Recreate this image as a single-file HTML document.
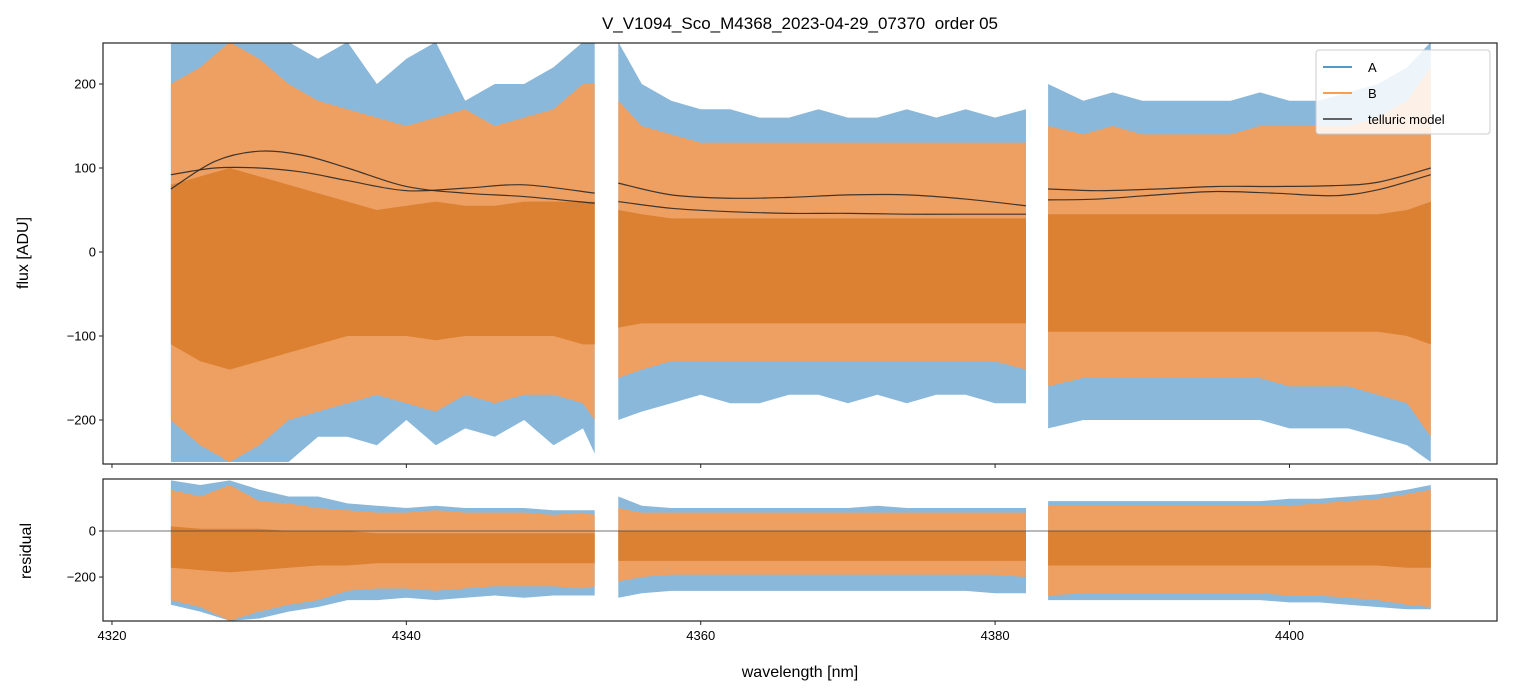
<!DOCTYPE html>
<html><head><meta charset="utf-8"><style>
body{margin:0;background:#fff;}
svg{display:block;font-family:"Liberation Sans","DejaVu Sans",sans-serif;}
</style></head><body>
<svg id="chart" width="1513" height="696" viewBox="0 0 1513 696" xmlns="http://www.w3.org/2000/svg">
<text x="800" y="29" font-size="17" text-anchor="middle" style="white-space:pre">V_V1094_Sco_M4368_2023-04-29_07370  order 05</text>
<g id="topPanel"></g>
<g id="botPanel"></g>
<text transform="translate(28,253) rotate(-90)" font-size="16" text-anchor="middle">flux [ADU]</text>
<text transform="translate(31,551) rotate(-90)" font-size="16" text-anchor="middle">residual</text>
<text x="800" y="677" font-size="16" text-anchor="middle">wavelength [nm]</text>
<g id="legend">
<rect x="1316" y="50" width="174" height="84" rx="3" fill="#fff" fill-opacity="0.85" stroke="#ccc"/>
<line x1="1323" y1="67" x2="1352" y2="67" stroke="#1f77b4" stroke-width="1.5"/>
<text x="1368" y="72" font-size="13">A</text>
<line x1="1323" y1="93" x2="1352" y2="93" stroke="#ff7f0e" stroke-width="1.5"/>
<text x="1368" y="98" font-size="13">B</text>
<line x1="1323" y1="119" x2="1352" y2="119" stroke="#333" stroke-width="1.5"/>
<text x="1368" y="124" font-size="13">telluric model</text>
</g>
</svg>
<script>
const xTicks=[4320,4340,4360,4380,4400];
const topTicks=[200,100,0,-100,-200];
const botTicks=[0,-200];
const s1Wl=[4324,4326,4328,4330,4332,4334,4336,4338,4340,4342,4344,4346,4348,4350,4352,4352.8];
const s2Wl=[4354.4,4356,4358,4360,4362,4364,4366,4368,4370,4372,4374,4376,4378,4380,4382.1];
const s3Wl=[4383.6,4386,4388,4390,4392,4394,4396,4398,4400,4402,4404,4406,4408,4409.6];
const s1BlueHi=[250,250,250,250,250,230,250,200,230,250,180,200,200,220,250,250];
const s1BlueLo=[-250,-250,-250,-250,-250,-220,-220,-230,-200,-230,-210,-220,-200,-230,-210,-240];
const s1OrHi=[200,220,250,230,200,180,170,160,150,160,170,150,160,170,200,200];
const s1OrLo=[-200,-230,-250,-230,-200,-190,-180,-170,-180,-190,-170,-180,-170,-170,-180,-200];
const s1CoreHi=[80,90,100,90,80,70,60,50,55,60,55,55,60,60,60,60];
const s1CoreLo=[-110,-130,-140,-130,-120,-110,-100,-100,-100,-105,-100,-100,-100,-100,-110,-110];
const s2BlueHi=[250,200,180,170,170,160,160,170,160,160,170,160,170,160,170];
const s2BlueLo=[-200,-190,-180,-170,-180,-180,-170,-170,-180,-170,-180,-170,-170,-180,-180];
const s2OrHi=[180,150,140,130,130,130,130,130,130,130,130,130,130,130,130];
const s2OrLo=[-150,-140,-130,-130,-130,-130,-130,-130,-130,-130,-130,-130,-130,-130,-140];
const s2CoreHi=[50,45,40,40,40,40,40,40,40,40,40,40,40,40,40];
const s2CoreLo=[-90,-85,-85,-85,-85,-85,-85,-85,-85,-85,-85,-85,-85,-85,-85];
const s3BlueHi=[200,180,190,180,180,180,180,190,180,180,190,200,220,250];
const s3BlueLo=[-210,-200,-200,-200,-200,-200,-200,-200,-210,-210,-210,-220,-230,-250];
const s3OrHi=[150,140,150,140,140,140,140,150,150,150,150,160,180,220];
const s3OrLo=[-160,-150,-150,-150,-150,-150,-150,-150,-160,-160,-160,-170,-180,-220];
const s3CoreHi=[45,45,45,45,45,45,45,45,45,45,45,45,50,60];
const s3CoreLo=[-95,-95,-95,-95,-95,-95,-95,-95,-95,-95,-95,-95,-100,-110];
const r1BlueHi=[220,200,220,180,150,150,120,110,100,110,100,100,100,90,90,90];
const r1BlueLo=[-320,-350,-390,-380,-350,-330,-300,-300,-290,-300,-290,-280,-290,-280,-280,-280];
const r1OrHi=[180,150,200,130,120,100,90,80,80,90,80,80,80,70,80,70];
const r1OrLo=[-300,-330,-390,-350,-320,-300,-260,-250,-250,-260,-250,-240,-240,-240,-250,-240];
const r1CoreHi=[20,10,10,10,0,0,0,-10,-10,-10,-10,-10,-10,-10,-10,-10];
const r1CoreLo=[-160,-170,-180,-170,-160,-150,-150,-140,-140,-140,-140,-140,-140,-140,-140,-140];
const r2BlueHi=[150,110,100,100,100,100,100,100,100,110,100,100,100,100,100];
const r2BlueLo=[-290,-270,-260,-260,-260,-260,-260,-260,-260,-260,-260,-260,-260,-270,-270];
const r2OrHi=[100,80,80,80,80,80,80,80,80,80,80,80,80,80,80];
const r2OrLo=[-220,-200,-190,-190,-190,-190,-190,-190,-190,-190,-190,-190,-190,-190,-200];
const r2CoreHi=[0,0,0,0,0,0,0,0,0,0,0,0,0,0,0];
const r2CoreLo=[-130,-130,-130,-130,-130,-130,-130,-130,-130,-130,-130,-130,-130,-130,-130];
const r3BlueHi=[130,130,130,130,130,130,130,130,140,140,150,160,180,200];
const r3BlueLo=[-300,-300,-300,-300,-300,-300,-300,-300,-310,-310,-320,-330,-340,-340];
const r3OrHi=[110,110,110,110,110,110,110,110,110,120,130,140,160,180];
const r3OrLo=[-280,-270,-270,-270,-270,-270,-270,-270,-280,-280,-290,-300,-320,-330];
const r3CoreHi=[0,0,0,0,0,0,0,0,0,0,0,0,0,0];
const r3CoreLo=[-150,-150,-150,-150,-150,-150,-150,-150,-150,-150,-150,-150,-160,-160];
const t1Wl=[4324,4327,4330,4333,4336,4340,4344,4348,4352.8];
const t1a=[75,108,120,115,100,78,70,66,58];
const t1b=[92,100,100,95,85,73,76,80,70];
const t2Wl=[4354.4,4358,4362,4366,4370,4374,4378,4382.1];
const t2a=[82,68,64,65,68,68,63,55];
const t2b=[60,52,48,46,46,45,45,45];
const t3Wl=[4383.6,4387,4391,4395,4399,4403,4406,4409.6];
const t3a=[75,73,75,78,78,79,83,100];
const t3b=[62,63,68,72,70,67,74,92];

const NS='http://www.w3.org/2000/svg';
const X0=103,X1=1497,XMIN=4319.39,XMAX=4414.1;
const sx=w=>X0+(w-XMIN)/(XMAX-XMIN)*(X1-X0);
const PT={top:43,bot:464,vmax:248.8,vmin:-252.4};
const PB={top:479,bot:621,vmax:226,vmin:-391};
const sy=(p,v)=>p.top+(p.vmax-v)/(p.vmax-p.vmin)*(p.bot-p.top);
function mk(tag,attrs,parent){const e=document.createElementNS(NS,tag);for(const k in attrs)e.setAttribute(k,attrs[k]);parent.appendChild(e);return e;}
function band(g,p,wl,hi,lo,fill,op,name){
  let d='M'+wl.map((w,i)=>sx(w).toFixed(1)+','+sy(p,hi[i]).toFixed(1)).join(' L');
  for(let i=wl.length-1;i>=0;i--)d+=' L'+sx(wl[i]).toFixed(1)+','+sy(p,lo[i]).toFixed(1);
  const e=mk('path',{d:d+'Z',fill:fill,'fill-opacity':op},g);
  
  
}
function smooth(g,p,wl,v,name){
  const pts=wl.map((w,i)=>[sx(w),sy(p,v[i])]);
  let d='M'+pts[0][0]+','+pts[0][1];
  for(let i=0;i<pts.length-1;i++){
    const p0=pts[Math.max(0,i-1)],p1=pts[i],p2=pts[i+1],p3=pts[Math.min(pts.length-1,i+2)];
    d+=' C'+(p1[0]+(p2[0]-p0[0])/6)+','+(p1[1]+(p2[1]-p0[1])/6)+' '+(p2[0]-(p3[0]-p1[0])/6)+','+(p2[1]-(p3[1]-p1[1])/6)+' '+p2[0]+','+p2[1];
  }
  const e=mk('path',{d:d,fill:'none',stroke:'#222','stroke-opacity':0.85,'stroke-width':1.2},g);
  
  
}
function axes(g,p,ticks,showLabels){
  mk('rect',{x:X0,y:p.top,width:X1-X0,height:p.bot-p.top,fill:'none',stroke:'#222','stroke-width':1.2},g);
  ticks.forEach(t=>{const y=sy(p,t);mk('line',{x1:X0-4,x2:X0,y1:y,y2:y,stroke:'#222'},g);
    const tx=mk('text',{x:X0-7,y:y+4.5,'font-size':13,'text-anchor':'end'},g);tx.textContent=(t<0?'\u2212'+(-t):t);
    
    });
  xTicks.forEach(t=>{const x=sx(t);mk('line',{x1:x,x2:x,y1:p.bot,y2:p.bot+4,stroke:'#222'},g);
    if(showLabels){const tx=mk('text',{x:x,y:p.bot+19,'font-size':13,'text-anchor':'middle'},g);tx.textContent=t;
      
      }});
}
const topG=document.getElementById('topPanel'),botG=document.getElementById('botPanel');
const cp=mk('clipPath',{id:'ct'},topG);mk('rect',{x:X0,y:PT.top,width:X1-X0,height:PT.bot-PT.top},cp);
const cb=mk('clipPath',{id:'cb'},botG);mk('rect',{x:X0,y:PB.top,width:X1-X0,height:PB.bot-PB.top},cb);
const gt=mk('g',{'clip-path':'url(#ct)'},topG),gb=mk('g',{'clip-path':'url(#cb)'},botG);
const segs=[[s1Wl,s1BlueHi,s1BlueLo,s1OrHi,s1OrLo,s1CoreHi,s1CoreLo],[s2Wl,s2BlueHi,s2BlueLo,s2OrHi,s2OrLo,s2CoreHi,s2CoreLo],[s3Wl,s3BlueHi,s3BlueLo,s3OrHi,s3OrLo,s3CoreHi,s3CoreLo]];
const rsegs=[[s1Wl,r1BlueHi,r1BlueLo,r1OrHi,r1OrLo,r1CoreHi,r1CoreLo],[s2Wl,r2BlueHi,r2BlueLo,r2OrHi,r2OrLo,r2CoreHi,r2CoreLo],[s3Wl,r3BlueHi,r3BlueLo,r3OrHi,r3OrLo,r3CoreHi,r3CoreLo]];
[[gt,PT,segs],[gb,PB,rsegs]].forEach(([g,p,ss])=>ss.forEach(s=>{
  band(g,p,s[0],s[1],s[2],'#8ab8da',1,'series-a-envelope');
  band(g,p,s[0],s[3],s[4],'#eea062',1,'series-b-envelope');
  band(g,p,s[0],s[5],s[6],'#dc8132',1,'series-core');
}));
[[t1Wl,t1a,t1b],[t2Wl,t2a,t2b],[t3Wl,t3a,t3b]].forEach(t=>{smooth(gt,PT,t[0],t[1],'telluric-model-a');smooth(gt,PT,t[0],t[2],'telluric-model-b');});
const zl=mk('line',{x1:X0,x2:X1,y1:sy(PB,0),y2:sy(PB,0),stroke:'#444','stroke-width':0.8},gb);


axes(topG,PT,topTicks,false);
axes(botG,PB,botTicks,true);
const svgEl=document.getElementById('chart');
svgEl.appendChild(document.getElementById('legend'));
</script>
</body></html>
